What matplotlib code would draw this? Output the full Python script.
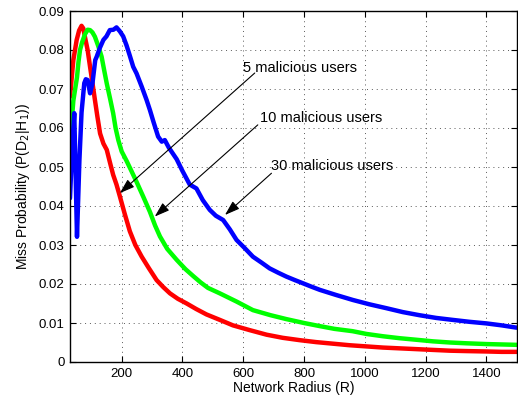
import matplotlib.pyplot as plt

plt.rcParams['font.family'] = ['Liberation Sans', 'DejaVu Sans']

# ---- data ----
red_x = [30, 41, 52, 60, 68, 74, 79, 88, 96, 104, 112, 120, 129, 140, 151, 162, 172, 183,
         194, 210, 227, 245, 266, 290, 315, 337, 359, 385, 414, 445, 479, 523, 566, 620,
         677, 730, 786, 840, 895, 950, 1005, 1060, 1115, 1170, 1224, 1280, 1334, 1400,
         1450, 1500]
red_y = [0.068, 0.0774, 0.0826, 0.0850, 0.0862, 0.0855, 0.0834, 0.0800, 0.0757, 0.0715,
         0.0672, 0.0630, 0.0586, 0.0560, 0.0544, 0.0510, 0.0480, 0.0455, 0.0425, 0.0380,
         0.0335, 0.0300, 0.0270, 0.0240, 0.0210, 0.0192, 0.0176, 0.0162, 0.0150, 0.0136,
         0.0122, 0.0108, 0.0094, 0.0082, 0.0070, 0.0062, 0.0056, 0.0051, 0.0047, 0.0043,
         0.0040, 0.0037, 0.0035, 0.0033, 0.0031, 0.0029, 0.0028, 0.0027, 0.0026, 0.0026]

green_x = [30, 36, 41, 47, 53, 58, 63, 70, 79, 88, 96, 104, 112, 123, 134, 142, 151, 162,
           172, 180, 189, 200, 216, 232, 249, 271, 293, 310, 326, 350, 381, 410, 436, 460,
           484, 523, 578, 632, 690, 742, 800, 852, 900, 960, 1005, 1060, 1115, 1170, 1224,
           1280, 1334, 1400, 1450, 1500]
green_y = [0.056, 0.062, 0.067, 0.070, 0.073, 0.077, 0.080, 0.082, 0.084, 0.0852, 0.0851,
           0.0845, 0.0834, 0.0810, 0.0783, 0.0750, 0.0714, 0.0675, 0.0638, 0.0600, 0.0569,
           0.0540, 0.0516, 0.0490, 0.0462, 0.0424, 0.0385, 0.0350, 0.0322, 0.0290, 0.0262,
           0.0238, 0.0220, 0.0204, 0.0190, 0.0176, 0.0155, 0.0133, 0.0120, 0.0110, 0.0100,
           0.0092, 0.0085, 0.0079, 0.0072, 0.0066, 0.0061, 0.0057, 0.0053, 0.0050, 0.0048,
           0.0046, 0.0045, 0.0044]

blue_x = [30, 37, 44, 48, 53, 57, 61, 68, 77, 82, 88, 96, 104, 113, 118, 128, 140, 150,
          161, 173, 183, 194, 205, 216, 227, 238, 249, 266, 282, 293, 305, 320, 332, 342,
          355, 368, 381, 400, 424, 446, 467, 490, 510, 534, 556, 578, 605, 632, 660, 687,
          715, 742, 770, 796, 825, 852, 905, 961, 1015, 1071, 1125, 1180, 1235, 1289, 1345,
          1400, 1450, 1500]
blue_y = [0.042, 0.055, 0.0638, 0.050, 0.0321, 0.042, 0.0518, 0.064, 0.0715, 0.0725,
          0.0723, 0.0689, 0.0715, 0.0774, 0.0783, 0.0805, 0.0826, 0.0835, 0.0851, 0.0852,
          0.0858, 0.0848, 0.0835, 0.0812, 0.0785, 0.0757, 0.0740, 0.0706, 0.0672, 0.0646,
          0.0615, 0.0578, 0.0565, 0.0569, 0.0550, 0.0535, 0.0520, 0.0490, 0.0455, 0.0445,
          0.0415, 0.0390, 0.0375, 0.0364, 0.0340, 0.0313, 0.0292, 0.0270, 0.0255, 0.0240,
          0.0229, 0.0219, 0.0210, 0.0202, 0.0193, 0.0185, 0.0172, 0.0159, 0.0148, 0.0138,
          0.0128, 0.0120, 0.0113, 0.0108, 0.0103, 0.0099, 0.0094, 0.0088]

x_ticks = [200, 400, 600, 800, 1000, 1200, 1400]
y_ticks = [0, 0.01, 0.02, 0.03, 0.04, 0.05, 0.06, 0.07, 0.08, 0.09]
y_tick_labels = ['0', '0.01', '0.02', '0.03', '0.04', '0.05', '0.06', '0.07', '0.08', '0.09']

# label text, text anchor, arrow tail, arrow head
notes = [
    ("5 malicious users", (599, 0.0754), (638, 0.0741), (194, 0.0433)),
    ("10 malicious users", (655, 0.0626), (648, 0.0608), (309, 0.0373)),
    ("30 malicious users", (693, 0.0503), (693, 0.0484), (540, 0.0377)),
]

fig = plt.figure(figsize=(5.18, 4.04), dpi=100)
ax = fig.add_axes([70 / 518, 42 / 404, 446.7 / 518, 351 / 404])

for xs, ys, col in [(red_x, red_y, "#ff0000"), (green_x, green_y, "#00ff00"),
                    (blue_x, blue_y, "#0000ff")]:
    ax.plot(xs, ys, color=col, lw=3.2, solid_joinstyle="round", solid_capstyle="round")

ax.set_xlim(30, 1500)
ax.set_ylim(0, 0.09)
ax.set_xticks(x_ticks)
ax.set_yticks(y_ticks)
ax.set_yticklabels(y_tick_labels)
ax.tick_params(direction="in", top=True, right=True, length=4, width=0.8,
               labelsize=9.5, pad=4)
ax.grid(True, color="0.35", linestyle=(0, (1, 4)), linewidth=0.7)
for sp in ax.spines.values():
    sp.set_linewidth(1.0)

ax.set_xlabel("Network Radius (R)", fontsize=10, labelpad=1)
ax.set_ylabel("Miss Probability (P(D$_2$|H$_1$))", fontsize=10, labelpad=5)

for label, txt_pos, tail, head in notes:
    ax.text(txt_pos[0], txt_pos[1], label, fontsize=10.5, ha="left", va="center")
    ax.annotate("", xy=head, xytext=tail,
                arrowprops=dict(arrowstyle="-|>,head_length=0.9,head_width=0.3",
                                color="black", lw=0.8, shrinkA=0, shrinkB=0))

fig.savefig("out.png", dpi=100)
